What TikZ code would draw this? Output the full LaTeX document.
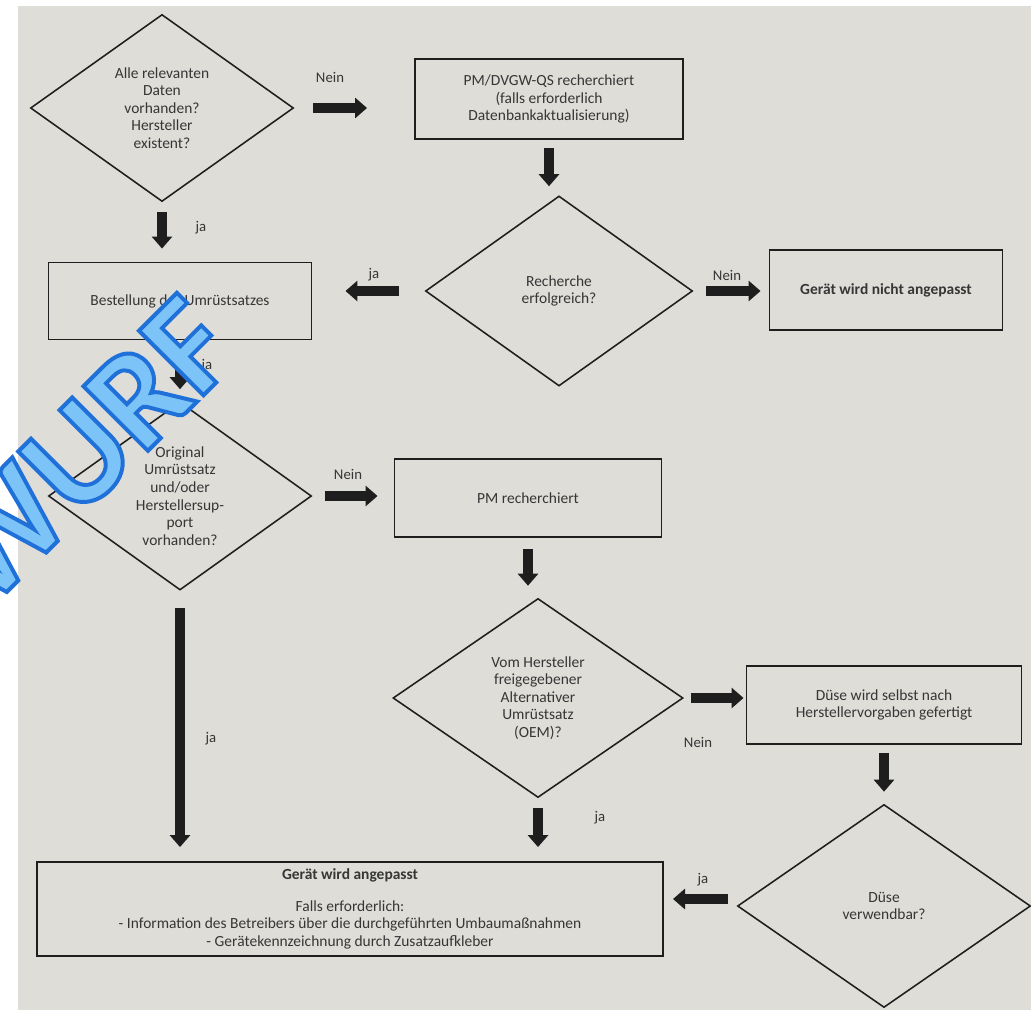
\documentclass[tikz,border=0pt]{standalone}
\usepackage{fontspec}
\setmainfont{Carlito}
\usetikzlibrary{shapes.geometric,arrows.meta}
\definecolor{papier}{HTML}{DEDDD8}
\definecolor{tinte}{HTML}{363636}
\definecolor{linie}{HTML}{1E1E1E}
\definecolor{wmfill}{HTML}{7CC3F8}
\tikzset{
	kasten/.style={draw=linie, line width=1.3pt, rectangle, align=center, text=tinte, inner sep=2pt, font=\fontsize{11}{12.5}\selectfont},
	raute/.style={draw=linie, line width=1.1pt, diamond, align=center, text=tinte, inner sep=0pt, font=\fontsize{11}{12.5}\selectfont},
	pfeil/.style={draw=linie, line width=0.25cm, -{Triangle[width=0.5cm,length=0.3cm]}},
	marke/.style={text=tinte, font=\fontsize{10.5}{12}\selectfont}
}
\begin{document}
\begin{tikzpicture}[x=0.025cm, y=-0.025cm]
		\useasboundingbox (0,0) rectangle (1031,1010);
		\fill[white] (0,0) rectangle (1031,1010);
		\fill[papier] (18,6) rectangle (1031,1010);
		% Rauten
		\node[raute, minimum width=6.575cm, minimum height=4.675cm] (D1) at (162,108) {Alle relevanten\\Daten\\vorhanden?\\Hersteller\\existent?};
		\node[raute, minimum width=6.675cm, minimum height=4.75cm] (D2) at (559,291) {Recherche\\erfolgreich?};
		\node[raute, minimum width=6.575cm, minimum height=4.7cm] (D3) at (180,496) {Original\\Umrüstsatz\\und/oder\\Herstellersup-\\port\\vorhanden?};
		\node[raute, minimum width=7.25cm, minimum height=4.975cm] (D4) at (538,698) {Vom Hersteller\\freigegebener\\Alternativer\\Umrüstsatz\\(OEM)?};
		\node[raute, minimum width=7.325cm, minimum height=5.075cm] (D5) at (884,906) {Düse\\verwendbar?};
		% Kaesten
		\node[kasten, minimum width=6.7cm, minimum height=2cm] (B1) at (549,99) {PM/DVGW-QS recherchiert\\(falls erforderlich\\Datenbankaktualisierung)};
		\node[kasten, minimum width=5.825cm, minimum height=2cm] (B2) at (886,290) {\bfseries Gerät wird nicht angepasst};
		\node[kasten, minimum width=6.575cm, minimum height=1.925cm] (B3) at (180,301) {Bestellung des Umrüstsatzes};
		\node[kasten, minimum width=6.675cm, minimum height=1.95cm] (B4) at (528,498) {PM recherchiert};
		\node[kasten, minimum width=6.875cm, minimum height=1.95cm] (B5) at (884,705) {Düse wird selbst nach\\Herstellervorgaben gefertigt};
		\node[kasten, minimum width=15.65cm, minimum height=2.35cm] (B6) at (350,909) {{\bfseries Gerät wird angepasst}\\[10pt]Falls erforderlich:\\- Information des Betreibers über die durchgeführten Umbaumaßnahmen\\- Gerätekennzeichnung durch Zusatzaufkleber};
		% Pfeile
		\draw[pfeil, shorten <=0.475cm, shorten >=1.175cm] (D1.east) -- (D1.east -| B1.west);
		\draw[pfeil, shorten <=0.25cm, shorten >=0.325cm] (D1.south) -- (D1.south |- B3.north);
		\draw[pfeil, shorten <=0.2cm, shorten >=0.225cm] (B1.south) -- (B1.south |- D2.north);
		\draw[pfeil, shorten <=0.325cm, shorten >=0.2cm] (D2.east) -- (D2.east -| B2.west);
		\draw[pfeil, shorten <=0.65cm, shorten >=0.825cm] (D2.west) -- (D2.west -| B3.east);
		\draw[pfeil, shorten <=0.125cm, shorten >=0.3cm] (B3.south) -- (B3.south |- D3.north);
		\draw[pfeil, shorten <=0.325cm, shorten >=0.4cm] (D3.east) -- (D3.east -| B4.west);
		\draw[pfeil, shorten <=0.275cm, shorten >=0.3cm] (B4.south) -- (B4.south |- D4.north);
		\draw[pfeil, shorten <=0.175cm, shorten >=0.05cm] (D4.east) -- (D4.east -| B5.west);
		\draw[pfeil, shorten <=0.2cm, shorten >=0.3cm] (B5.south) -- (B5.south |- D5.north);
		\draw[pfeil, shorten <=0.225cm, shorten >=0.225cm] ([yshift=0.175cm]D5.west) -- ([yshift=0.175cm]D5.west -| B6.east);
		\draw[pfeil, shorten <=0.25cm, shorten >=0.35cm] (D4.south) -- (D4.south |- B6.north);
		\draw[pfeil, shorten <=0.425cm, shorten >=0.35cm] (D3.south) -- (D3.south |- B6.north);
		% Beschriftungen
		\node[marke] (m1) at (330,77) {Nein};
		\node[marke] (m2) at (201,228) {ja};
		\node[marke] (m3) at (374,275) {ja};
		\node[marke] (m4) at (727,275) {Nein};
		\node[marke] (m5) at (207,366) {ja};
		\node[marke] (m6) at (348,474) {Nein};
		\node[marke] (m7) at (698,742) {Nein};
		\node[marke] (m8) at (600,818) {ja};
		\node[marke] (m9) at (211,739) {ja};
		\node[marke] (m10) at (703,880) {ja};
		% Wasserzeichen
		\begin{scope}
			\clip (0,0) rectangle (1031,1010);
			\node[rotate=45, text=wmfill, font=\fontsize{100}{100}\selectfont\bfseries] (wz) at (2,533) {\special{pdf:literal direct 2 Tr 2.8 w 0.12 0.44 0.85 RG}ENTWURF\special{pdf:literal direct 0 Tr}};
		\end{scope}
	\end{tikzpicture}
\end{document}
